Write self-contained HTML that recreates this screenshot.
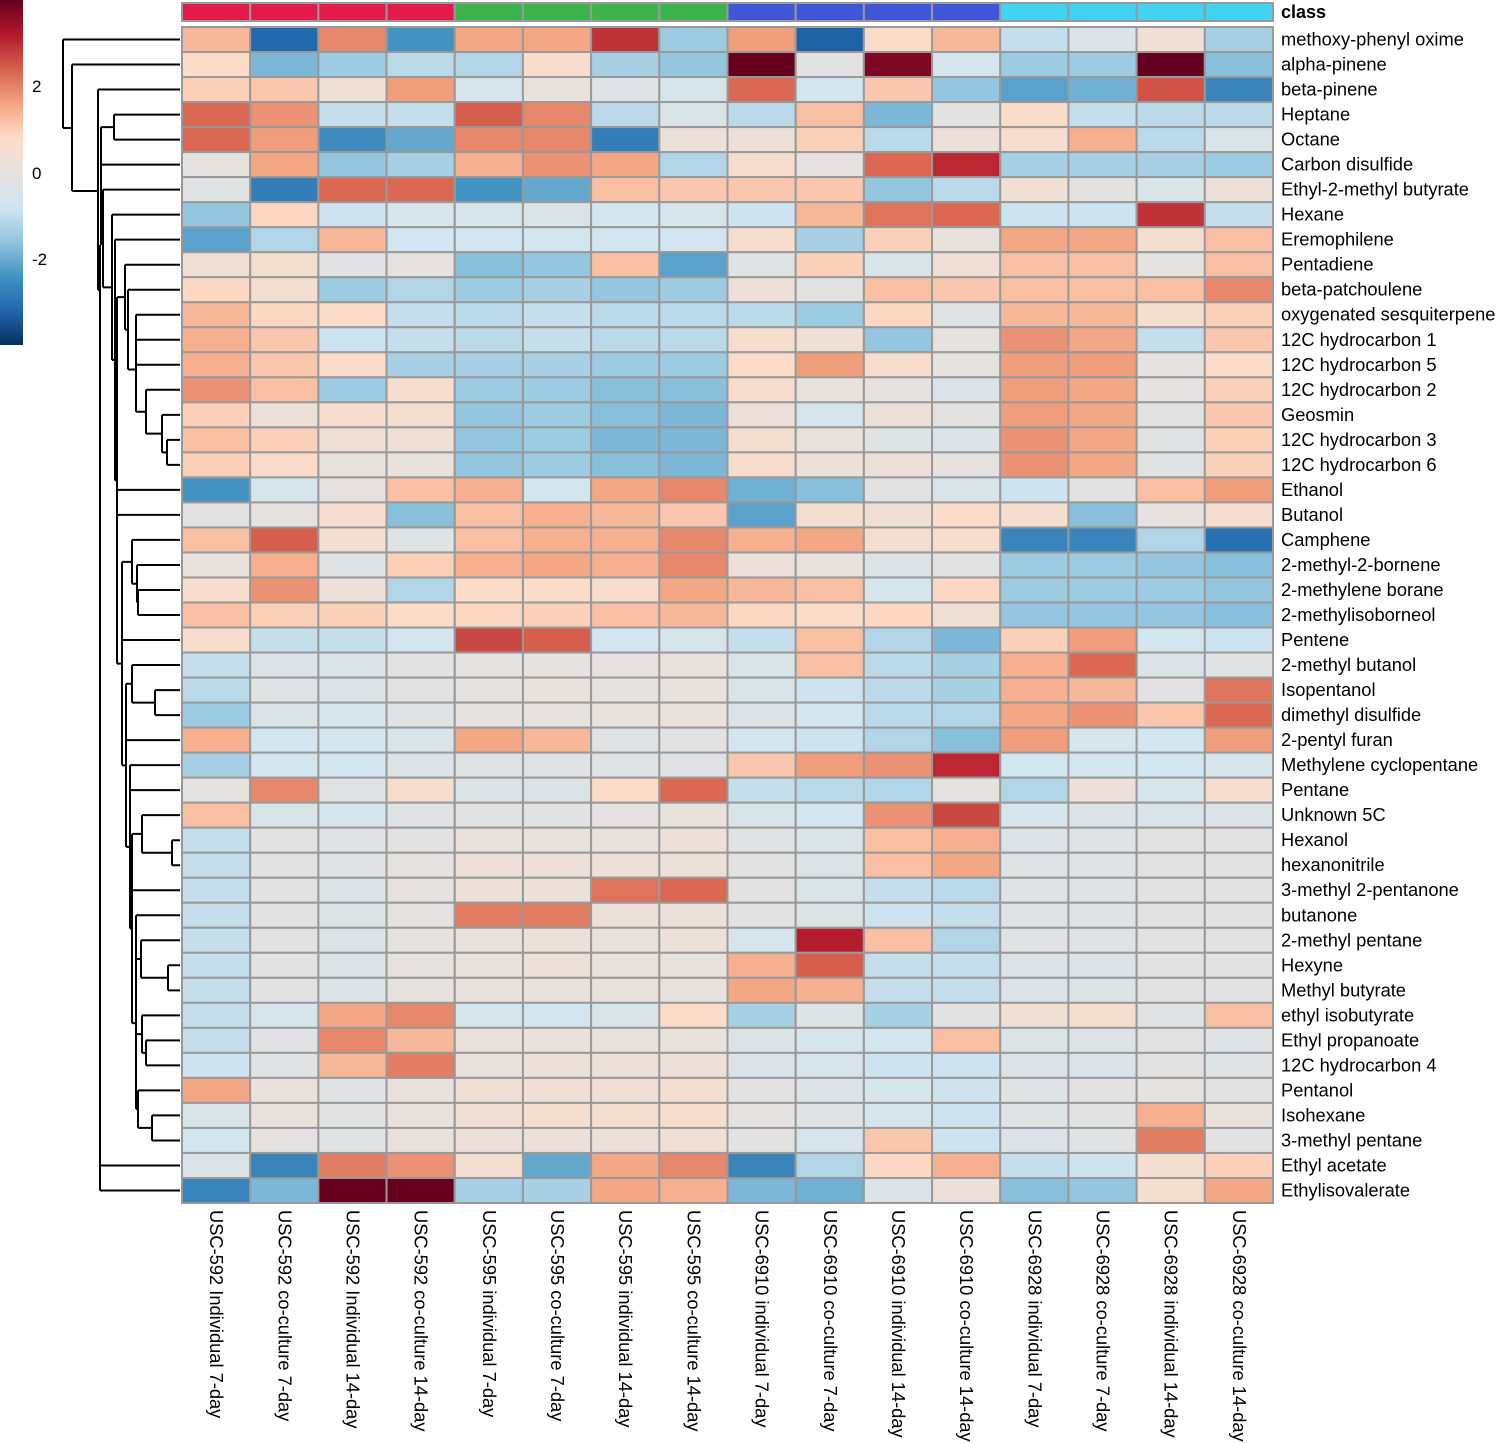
<!DOCTYPE html>
<html><head><meta charset="utf-8">
<style>
html,body{margin:0;padding:0;background:#fff;}
svg{display:block;font-family:"Liberation Sans",sans-serif;}
</style></head>
<body>
<svg id="chart" width="1501" height="1443" viewBox="0 0 1501 1443" xmlns="http://www.w3.org/2000/svg">
<defs>
<linearGradient id="lg" x1="0" y1="0" x2="0" y2="1">
<stop offset="0" stop-color="#67001f"/><stop offset="0.1" stop-color="#b2182b"/><stop offset="0.2" stop-color="#d6604d"/><stop offset="0.3" stop-color="#f4a582"/><stop offset="0.4" stop-color="#fddbc7"/><stop offset="0.5" stop-color="#e6e2df"/><stop offset="0.6" stop-color="#d1e5f0"/><stop offset="0.7" stop-color="#92c5de"/><stop offset="0.8" stop-color="#4393c3"/><stop offset="0.9" stop-color="#2166ac"/><stop offset="1" stop-color="#053061"/>
</linearGradient>
</defs>
<g>
<rect x="0" y="0" width="23" height="345" fill="url(#lg)"/>
<text x="32" y="92" font-size="17">2</text>
<text x="32" y="179" font-size="17">0</text>
<text x="32" y="265" font-size="17">-2</text>
</g>
<g id="dendro"></g>
<g id="cells"></g>
<g id="rowlabels"></g>
<g id="collabels"></g>
<text x="1281" y="18" font-size="18" font-weight="bold">class</text>
</svg>
<script>
const rowNames = ["methoxy-phenyl oxime","alpha-pinene","beta-pinene","Heptane","Octane","Carbon disulfide","Ethyl-2-methyl butyrate","Hexane","Eremophilene","Pentadiene","beta-patchoulene","oxygenated sesquiterpene","12C hydrocarbon 1","12C hydrocarbon 5","12C hydrocarbon 2","Geosmin","12C hydrocarbon 3","12C hydrocarbon 6","Ethanol","Butanol","Camphene","2-methyl-2-bornene","2-methylene borane","2-methylisoborneol","Pentene","2-methyl butanol","Isopentanol","dimethyl disulfide","2-pentyl furan","Methylene cyclopentane","Pentane","Unknown 5C","Hexanol","hexanonitrile","3-methyl 2-pentanone","butanone","2-methyl pentane","Hexyne","Methyl butyrate","ethyl isobutyrate","Ethyl propanoate","12C hydrocarbon 4","Pentanol","Isohexane","3-methyl pentane","Ethyl acetate","Ethylisovalerate"];
const colNames = ["USC-592 Individual 7-day","USC-592 co-culture 7-day","USC-592 Individual 14-day","USC-592 co-culture 14-day","USC-595 individual 7-day","USC-595 co-culture 7-day","USC-595 individual 14-day","USC-595 co-culture 14-day","USC-6910 individual 7-day","USC-6910 co-culture 7-day","USC-6910 individual 14-day","USC-6910 co-culture 14-day","USC-6928 individual 7-day","USC-6928 co-culture 7-day","USC-6928 individual 14-day","USC-6928 co-culture 14-day"];
const colClass = ["592","592","592","592","595","595","595","595","6910","6910","6910","6910","6928","6928","6928","6928"];
const classColors = {"592":"#e41a4b","595":"#3cb44b","6910":"#4055d8","6928":"#40d4f2"};
const values = [
[1.1,-2.6,1.6,-2.0,1.3,1.3,2.4,-1.2,1.4,-2.7,0.6,1.1,-0.8,-0.4,0.3,-1.1],
[0.6,-1.5,-1.2,-0.9,-1.0,0.5,-1.1,-1.3,3.8,-0.1,3.1,-0.5,-1.2,-1.2,4.0,-1.4],
[0.8,0.9,0.3,1.4,-0.5,0.1,-0.2,-0.5,1.9,-0.6,0.9,-1.3,-1.8,-1.6,2.1,-2.2],
[1.9,1.5,-0.8,-0.8,2.0,1.6,-0.9,-0.4,-0.9,1.0,-1.5,-0.1,0.6,-0.8,-0.9,-0.9],
[1.9,1.4,-2.1,-1.7,1.6,1.6,-2.3,0.2,0.2,0.8,-0.9,0.2,0.5,1.2,-0.9,-0.4],
[0.0,1.3,-1.3,-1.1,1.2,1.5,1.3,-1.0,0.5,0.0,1.9,2.5,-1.1,-1.1,-1.1,-1.2],
[-0.2,-2.3,1.9,1.9,-2.0,-1.7,1.0,0.9,0.9,0.9,-1.3,-0.9,0.3,-0.1,-0.4,0.2],
[-1.3,0.7,-0.7,-0.5,-0.5,-0.4,-0.6,-0.5,-0.7,1.1,1.8,1.9,-0.7,-0.7,2.4,-0.8],
[-1.8,-1.0,1.1,-0.6,-0.6,-0.6,-0.6,-0.6,0.5,-1.1,0.8,0.1,1.3,1.3,0.4,1.0],
[0.3,0.4,-0.2,0.0,-1.4,-1.3,1.0,-1.8,-0.2,0.8,-0.4,0.3,1.0,1.0,0.0,1.0],
[0.7,0.4,-1.2,-1.0,-1.2,-1.1,-1.3,-1.2,0.2,-0.1,1.0,0.9,1.0,1.0,1.0,1.6],
[1.1,0.7,0.6,-0.8,-0.9,-0.8,-0.9,-0.9,-0.9,-1.2,0.7,-0.2,1.1,1.1,0.4,0.8],
[1.2,0.9,-0.7,-0.8,-0.9,-0.8,-0.9,-0.9,0.5,0.3,-1.3,0.0,1.5,1.3,-0.8,0.9],
[1.2,0.9,0.6,-1.1,-1.1,-1.1,-1.2,-1.2,0.6,1.4,0.5,0.0,1.4,1.4,0.0,0.6],
[1.5,1.0,-1.2,0.5,-1.2,-1.2,-1.4,-1.4,0.5,0.1,0.0,-0.3,1.4,1.3,0.0,0.8],
[0.8,0.2,0.5,0.4,-1.3,-1.2,-1.4,-1.5,0.2,-0.5,0.2,-0.1,1.4,1.3,-0.1,0.9],
[1.0,0.8,0.3,0.3,-1.3,-1.2,-1.5,-1.5,0.4,0.1,-0.2,-0.3,1.5,1.3,-0.2,0.8],
[0.8,0.6,0.1,0.1,-1.3,-1.2,-1.4,-1.5,0.5,0.2,0.2,0.0,1.5,1.3,-0.2,0.8],
[-2.0,-0.5,0.0,1.0,1.2,-0.6,1.3,1.6,-1.6,-1.4,-0.1,-0.4,-0.7,-0.1,1.0,1.4],
[-0.1,0.0,0.5,-1.4,1.0,1.2,1.1,0.9,-1.8,0.4,0.3,0.6,0.5,-1.4,0.0,0.5],
[1.0,2.0,0.4,-0.2,1.0,1.2,1.2,1.6,1.2,1.3,0.4,0.5,-2.2,-2.2,-1.0,-2.5],
[0.1,1.2,-0.2,0.8,1.2,1.3,1.2,1.6,0.2,0.1,-0.3,-0.1,-1.2,-1.2,-1.3,-1.4],
[0.5,1.5,0.2,-1.0,0.6,0.6,0.5,1.3,1.1,1.0,-0.5,0.7,-1.2,-1.2,-1.2,-1.3],
[1.0,0.8,0.8,0.6,0.7,0.8,1.0,1.1,0.7,0.6,0.7,0.3,-1.3,-1.3,-1.3,-1.4],
[0.5,-0.8,-0.8,-0.6,2.2,2.0,-0.6,-0.5,-0.8,1.0,-1.0,-1.5,0.8,1.4,-0.6,-0.7],
[-0.8,-0.3,-0.4,-0.1,0.0,0.0,0.0,0.1,-0.4,1.0,-0.9,-1.1,1.2,1.9,-0.3,-0.2],
[-0.9,-0.2,-0.3,-0.1,0.0,0.1,0.0,0.1,-0.4,-0.7,-0.9,-1.1,1.2,1.1,-0.1,1.8],
[-1.2,-0.4,-0.5,-0.2,0.0,0.0,0.1,0.1,-0.3,-0.6,-0.9,-1.0,1.3,1.5,0.9,1.9],
[1.2,-0.6,-0.6,-0.4,1.3,1.1,-0.2,-0.1,-0.6,-0.7,-1.0,-1.4,1.4,-0.5,-0.6,1.4],
[-1.1,-0.6,-0.6,-0.3,-0.2,-0.2,-0.2,-0.2,0.9,1.4,1.5,2.5,-0.6,-0.6,-0.6,-0.5],
[0.0,1.6,-0.2,0.5,-0.3,-0.3,0.6,1.9,-0.8,-0.9,-1.0,0.0,-1.0,0.2,-0.5,0.5],
[1.0,-0.4,-0.6,-0.2,-0.1,-0.1,0.0,0.1,-0.4,-0.6,1.5,2.2,-0.5,-0.3,-0.4,-0.3],
[-0.8,-0.1,-0.2,-0.1,0.1,0.1,0.1,0.2,-0.2,-0.4,1.0,1.2,-0.3,-0.2,-0.1,-0.1],
[-0.8,-0.1,-0.2,0.0,0.2,0.2,0.2,0.2,-0.1,-0.3,1.0,1.3,-0.2,-0.2,-0.1,-0.1],
[-0.8,-0.1,-0.3,0.0,0.2,0.2,1.8,1.9,-0.1,-0.4,-0.8,-0.9,-0.2,-0.2,-0.1,-0.1],
[-0.8,-0.1,-0.3,0.0,1.7,1.7,0.2,0.2,-0.1,-0.3,-0.7,-0.8,-0.2,-0.2,-0.1,-0.1],
[-0.8,-0.1,-0.3,0.0,0.1,0.2,0.1,0.2,-0.5,2.6,1.0,-1.0,-0.2,-0.2,-0.1,-0.1],
[-0.8,-0.1,-0.3,0.0,0.1,0.2,0.1,0.1,1.2,2.0,-0.8,-0.8,-0.3,-0.3,-0.1,-0.1],
[-0.8,-0.1,-0.3,0.0,0.1,0.1,0.1,0.1,1.3,1.2,-0.8,-0.8,-0.3,-0.3,-0.1,-0.1],
[-0.8,-0.5,1.3,1.6,-0.5,-0.6,-0.4,0.6,-1.1,-0.2,-1.1,-0.1,0.3,0.4,-0.2,1.0],
[-0.8,-0.2,1.6,1.1,0.1,0.1,0.1,0.1,-0.3,-0.5,-0.6,1.0,-0.3,-0.3,-0.1,-0.2],
[-0.7,-0.2,1.1,1.7,0.1,0.2,0.2,0.2,-0.3,-0.5,-0.7,-0.7,-0.3,-0.3,-0.1,-0.2],
[1.3,0.1,-0.2,0.1,0.3,0.3,0.3,0.4,-0.1,-0.3,-0.5,-0.7,-0.2,-0.1,0.0,-0.1],
[-0.4,0.1,-0.1,0.1,0.3,0.4,0.4,0.5,0.0,-0.2,-0.5,-0.7,-0.2,-0.1,1.2,0.1],
[-0.6,0.0,-0.2,0.1,0.2,0.2,0.2,0.3,-0.1,-0.5,0.9,-0.7,-0.3,-0.2,1.7,-0.1],
[-0.3,-2.2,1.7,1.5,0.4,-1.7,1.3,1.6,-2.2,-1.0,0.7,1.2,-0.8,-0.7,0.4,0.8],
[-2.2,-1.5,3.3,3.4,-1.1,-1.1,1.3,1.2,-1.5,-1.6,-0.3,0.2,-1.4,-1.3,0.4,1.3]
];
// dendrogram topology: [mergeX, child...]; leaves are row indices
const dnTerp = [125, 9, [128, 10, [136, [136, 11, 12], 13, [146, 14, [162, 15, [167, 16, 17]]]]]];
const dnCamph = [132, 20, [137, 21, [138, 22, 23]]];
const dnLow = [136, [136, 35, [141, 36, [168, 37, 38]]], [142, 39, [146, 40, 41]], [138, 42, [152, 43, 44]]];
const dnMid = [130, 29, 30, [132, [142, 31, [172, 32, 33]], 34, dnLow]];
const dnB = [126, [132, 25, [155, 26, 27]], 28, dnMid];
const dnC = [122, dnCamph, 24, dnB];
const dnMain = [117, dnTerp, 18, 19, dnC];
const dnX = [101, [114, 3, 4], 5, [103, 6, [112, 7, [115, 8, dnMain]]]];
dnX.y = 245;
const dnR = [100, dnX, [100, 45, 46]];
dnR.y = 290;
const dnBr = [98, 2, dnR];
dnBr.y = 191;
const dnA = [72, 1, dnBr];
dnA.y = 128;
const dendroTree = [63, 0, dnA];

const NS="http://www.w3.org/2000/svg";
const X0=182, X1=1273, Y0=27, Y1=1203;
const cw=(X1-X0)/colNames.length, rh=(Y1-Y0)/rowNames.length;
const xPos=i=>X0+i*cw, yPos=i=>Y0+i*rh;
const stopCols=["#053061","#2166ac","#4393c3","#92c5de","#d1e5f0","#e6e2df","#fddbc7","#f4a582","#d6604d","#b2182b","#67001f"];
const STEP=0.66;
function hex(c){return [1,3,5].map(k=>parseInt(c.substr(k,2),16));}
function color(v){
  let p=v/STEP+5; p=Math.max(0,Math.min(10,p));
  const k=Math.min(9,Math.floor(p)), t=p-k;
  const A=hex(stopCols[k]),B=hex(stopCols[k+1]);
  return "rgb("+A.map((x,j)=>Math.round(x+(B[j]-x)*t)).join(",")+")";
}
const cells=document.getElementById("cells");
colClass.forEach((c,j)=>{
  const r=document.createElementNS(NS,"rect");
  r.setAttribute("x",xPos(j));r.setAttribute("y",3);r.setAttribute("width",cw);r.setAttribute("height",18);
  r.setAttribute("fill",classColors[c]);r.setAttribute("stroke","#999");r.setAttribute("stroke-width","2");
  
  
  cells.appendChild(r);
});
values.forEach((row,i)=>{
  row.forEach((v,j)=>{
    const r=document.createElementNS(NS,"rect");
    r.setAttribute("x",xPos(j));r.setAttribute("y",yPos(i));r.setAttribute("width",cw);r.setAttribute("height",rh);
    r.setAttribute("fill",color(v));r.setAttribute("stroke","#999");r.setAttribute("stroke-width","2");
    
    
    cells.appendChild(r);
  });
});
const rl=document.getElementById("rowlabels");
rowNames.forEach((n,i)=>{
  const t=document.createElementNS(NS,"text");
  t.setAttribute("x",1281);t.setAttribute("y",yPos(i)+rh/2+6);t.setAttribute("font-size","18.3");
  t.textContent=n;
  
  
  rl.appendChild(t);
});
const cl=document.getElementById("collabels");
colNames.forEach((n,j)=>{
  const t=document.createElementNS(NS,"text");
  const x=xPos(j)+cw/2-6, y=1210;
  t.setAttribute("x",x);t.setAttribute("y",y);t.setAttribute("font-size","18.3");
  t.setAttribute("transform","rotate(90 "+x+" "+y+")");
  t.textContent=n;
  
  
  cl.appendChild(t);
});
let d="";
function draw(node){
  if(typeof node==="number") return {x:180,y:yPos(node)+rh/2};
  const x=node[0]; const kids=node.slice(1).map(draw);
  kids.forEach(k=>{d+="M"+k.x+" "+k.y+"H"+x;});
  const my=(node.y!==undefined)?node.y:(kids[0].y+kids[kids.length-1].y)/2;
  const ys=kids.map(k=>k.y).concat([my]); const lo=Math.min(...ys), hi=Math.max(...ys);
  d+="M"+x+" "+lo+"V"+hi;
  return {x:x,y:my};
}
draw(dendroTree);
const p=document.createElementNS(NS,"path");
p.setAttribute("d",d);p.setAttribute("stroke","#000");p.setAttribute("stroke-width","2");p.setAttribute("fill","none");


document.getElementById("dendro").appendChild(p);
</script>
</body></html>
